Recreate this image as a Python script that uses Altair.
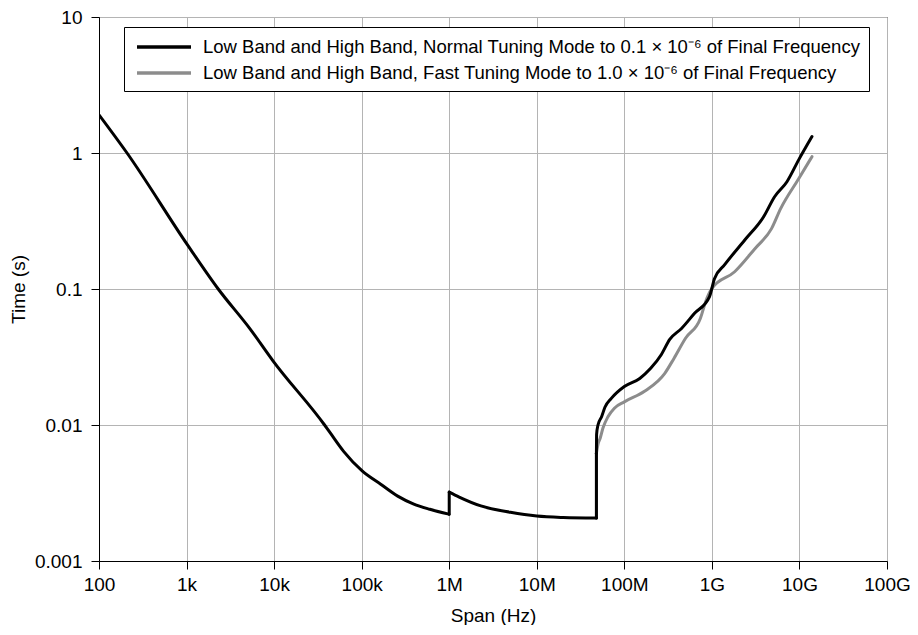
import altair as alt
import pandas as pd

NAME_NORMAL = "Low Band and High Band, Normal Tuning Mode to 0.1 × 10⁻⁶ of Final Frequency"
NAME_FAST = "\u00a0Low Band and High Band, Fast Tuning Mode to 1.0 × 10⁻⁶ of Final Frequency"

# each list of points, segment id separates vertical jumps from smooth pieces
normal_span = [100, 209, 1020, 2300, 5360, 9800, 37700, 44000, 62200, 102000, 165000,
               258000, 394000, 600000, 990000,
               1e6, 1e6,
               1e6, 1.3e6, 2.3e6, 5e6, 1e7, 2e7, 4.8e7,
               4.8e7, 4.8e7,
               4.8e7, 4.82e7, 5.0e7, 5.5e7, 6.0e7, 7.1e7, 1.0e8, 1.5e8, 2.0e8, 2.65e8, 3.3e8,
               4.5e8, 6.3e8, 9.4e8, 1.07e9, 1.4e9, 2.4e9, 3.9e9, 5.2e9, 7.2e9, 9.8e9, 1.39e10]
normal_time = [1.91, 1.0, 0.212, 0.1, 0.0505, 0.0294, 0.01, 0.0087, 0.0064, 0.00458, 0.00367,
               0.0030, 0.00262, 0.0024, 0.00221,
               0.00221, 0.00321,
               0.00321, 0.00295, 0.00254, 0.00228, 0.00214, 0.00209, 0.00207,
               0.00207, 0.0062,
               0.0062, 0.0085, 0.0100, 0.0115, 0.0135, 0.0157, 0.0192, 0.022, 0.0261, 0.033, 0.0426,
               0.0513, 0.066, 0.088, 0.119, 0.151, 0.231, 0.34, 0.477, 0.615, 0.89, 1.32]
normal_seg = [1] * 15 + [2] * 2 + [3] * 7 + [4] * 2 + [5] * 22

fast_span = [4.8e7, 4.8e7,
             4.8e7, 5.0e7, 5.3e7, 5.7e7, 6.5e7, 7.7e7, 1.0e8, 1.7e8, 2.9e8, 3.7e8,
             5.0e8, 7.4e8, 8.5e8, 1.0e9, 1.82e9, 3.1e9, 4.8e9, 6.1e9, 9.8e9, 1.39e10]
fast_time = [0.00207, 0.0062,
             0.0062, 0.0072, 0.0080, 0.0095, 0.0115, 0.0133, 0.0148, 0.0177, 0.024, 0.031,
             0.0434, 0.061, 0.081, 0.101, 0.134, 0.198, 0.278, 0.39, 0.647, 0.94]
fast_seg = [1] * 2 + [2] * 20

x_ticks = [1e2, 1e3, 1e4, 1e5, 1e6, 1e7, 1e8, 1e9, 1e10, 1e11]
x_labels = ["100", "1k", "10k", "100k", "1M", "10M", "100M", "1G", "10G", "100G"]
y_ticks = [0.001, 0.01, 0.1, 1, 10]

df_n = pd.DataFrame({"span": normal_span, "time": normal_time, "series": NAME_NORMAL,
                     "seg": normal_seg, "idx": range(len(normal_span))})
df_f = pd.DataFrame({"span": fast_span, "time": fast_time, "series": NAME_FAST,
                     "seg": fast_seg, "idx": range(len(fast_span))})

label_expr = ""
for v, l in zip(x_ticks, x_labels):
    label_expr += f"datum.value < {v * 1.5} ? '{l}' : "
label_expr += "''"

FONT = "Liberation Sans"
FS = 19

color = alt.Color(
    "series:N",
    scale=alt.Scale(domain=[NAME_NORMAL, NAME_FAST], range=["#000000", "#8c8c8c"]),
    legend=alt.Legend(title=None, orient="none", legendX=25, legendY=10,
                      symbolType="M-1,0H4.4", symbolStrokeWidth=3.5, symbolSize=400,
                      symbolOffset=3,
                      labelFontSize=18.5, labelFont=FONT, labelLimit=1000, labelColor="black",
                      strokeColor="black", fillColor="white", padding=8,
                      rowPadding=4, labelOffset=44),
)

x = alt.X("span:Q", scale=alt.Scale(type="log", domain=[1e2, 1e11]),
          axis=alt.Axis(title="Span (Hz)", values=x_ticks, labelExpr=label_expr,
                        labelFlush=False, labelOverlap=False,
                        tickSize=8, labelPadding=6, titlePadding=12))
y = alt.Y("time:Q", scale=alt.Scale(type="log", domain=[0.001, 10]),
          axis=alt.Axis(title="Time (s)", values=y_ticks, format="~g",
                        labelFlush=False, labelOverlap=False,
                        tickSize=8, labelPadding=9, titlePadding=6))

fast = alt.Chart(df_f).mark_line(strokeWidth=3, clip=True, interpolate="monotone",
                                 strokeCap="round").encode(
    x=x, y=y, color=color, detail="seg:N", order="idx:Q")
normal = alt.Chart(df_n).mark_line(strokeWidth=3, clip=True, interpolate="monotone",
                                   strokeCap="round").encode(
    x=x, y=y, color=color, detail="seg:N", order="idx:Q")

chart = alt.layer(fast, normal).properties(
    width=788, height=544,
    autosize=alt.AutoSizeParams(type="none"),
    padding={"left": 91, "top": 9, "right": 23, "bottom": 64},
).configure_view(
    stroke="black", strokeWidth=1
).configure_axis(
    grid=True, gridColor="#b4b4b4", gridWidth=1, domainColor="black",
    tickColor="black", labelFont=FONT, titleFont=FONT, labelFontSize=FS,
    titleFontSize=FS, titleFontWeight="normal", labelColor="black", titleColor="black"
)

chart.save("out.html", embed_options={"renderer": "svg", "actions": False})
